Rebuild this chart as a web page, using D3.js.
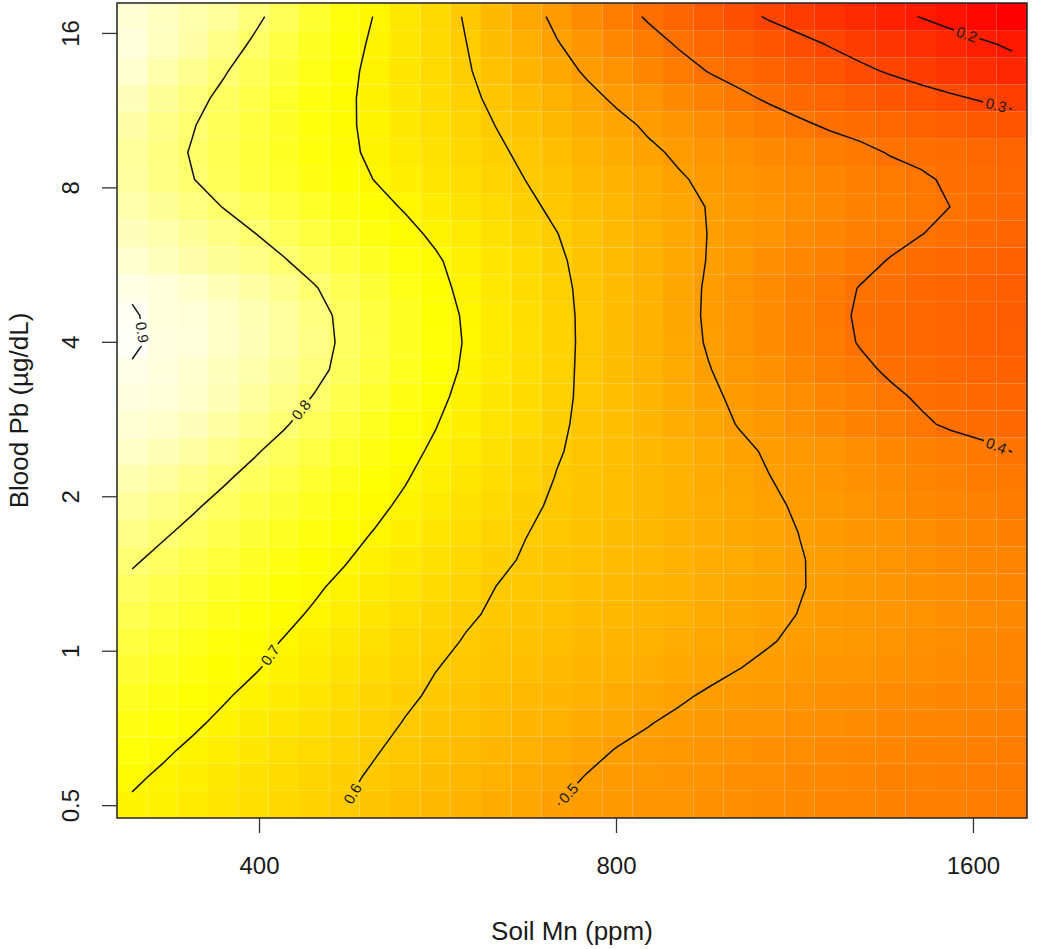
<!DOCTYPE html>
<html lang="en">
<head>
<meta charset="UTF-8">
<title>Soil Mn vs Blood Pb</title>
<script src="https://cdn.jsdelivr.net/npm/d3@7"></script>
<style>
  body { margin: 0; background: #fff; }
  text { font-family: "Liberation Sans", Arial, Helvetica, sans-serif; fill: #1a1a1a; }
</style>
</head>
<body>
<script>
// axis extents (data units) and tick labels
const mnRange = [303.6, 1777];
const pbRange = [0.472, 18.3];
const mnTicks = [400, 800, 1600];
const pbTicks = [0.5, 1, 2, 4, 8, 16];

// contour levels and where each label sits along its line (fraction of length, top end first)
const levels = [0.2, 0.3, 0.4, 0.5, 0.6, 0.7, 0.8, 0.9];
const labelAt = [0.52, 0.94, 0.977, 0.985, 0.986, 0.79, 0.676, 0.5];

// fitted surface, rows = Blood Pb from high (top) to low, columns = Soil Mn low -> high
const z = [
  [0.88,0.865,0.85,0.835,0.81,0.783,0.754,0.726,0.698,0.664,0.630,0.595,0.559,0.522,0.488,0.456,0.424,0.394,0.368,0.343,0.318,0.294,0.275,0.256,0.236,0.217,0.198,0.178,0.159,0.14],
  [0.885,0.865,0.845,0.82,0.795,0.770,0.744,0.719,0.692,0.662,0.631,0.601,0.568,0.535,0.503,0.476,0.448,0.421,0.395,0.375,0.355,0.335,0.315,0.296,0.278,0.261,0.243,0.226,0.208,0.191],
  [0.875,0.85,0.827,0.804,0.781,0.758,0.735,0.712,0.688,0.660,0.633,0.606,0.577,0.548,0.520,0.493,0.469,0.445,0.421,0.398,0.381,0.363,0.346,0.329,0.311,0.294,0.277,0.26,0.242,0.225],
  [0.86,0.832,0.812,0.791,0.771,0.750,0.730,0.709,0.686,0.662,0.637,0.613,0.588,0.564,0.539,0.514,0.491,0.471,0.451,0.431,0.411,0.393,0.379,0.365,0.351,0.336,0.322,0.308,0.294,0.280],
  [0.845,0.821,0.802,0.783,0.765,0.746,0.727,0.708,0.688,0.666,0.643,0.621,0.599,0.578,0.556,0.534,0.513,0.493,0.476,0.459,0.442,0.425,0.408,0.394,0.384,0.373,0.362,0.352,0.341,0.330],
  [0.835,0.815,0.797,0.780,0.762,0.745,0.727,0.710,0.691,0.670,0.650,0.629,0.609,0.589,0.569,0.549,0.529,0.509,0.493,0.479,0.465,0.452,0.438,0.424,0.411,0.397,0.39,0.383,0.375,0.365],
  [0.84,0.818,0.801,0.784,0.767,0.750,0.733,0.716,0.699,0.679,0.659,0.639,0.619,0.599,0.580,0.561,0.542,0.524,0.505,0.491,0.479,0.467,0.455,0.443,0.430,0.418,0.406,0.394,0.385,0.375],
  [0.85,0.834,0.816,0.799,0.782,0.765,0.748,0.731,0.714,0.696,0.674,0.653,0.632,0.610,0.590,0.571,0.553,0.534,0.515,0.498,0.485,0.473,0.461,0.449,0.436,0.424,0.412,0.3995,0.387,0.375],
  [0.86,0.848,0.834,0.819,0.8015,0.784,0.766,0.748,0.730,0.712,0.692,0.669,0.646,0.623,0.601,0.580,0.560,0.539,0.519,0.499,0.485,0.471,0.457,0.443,0.429,0.415,0.401,0.39,0.38,0.37],
  [0.875,0.862,0.847,0.834,0.82,0.803,0.784,0.764,0.745,0.725,0.706,0.682,0.657,0.632,0.608,0.585,0.563,0.541,0.519,0.498,0.481,0.464,0.448,0.431,0.414,0.397,0.386,0.377,0.368,0.36],
  [0.893,0.885,0.872,0.858,0.843,0.826,0.803,0.780,0.758,0.735,0.713,0.689,0.664,0.638,0.613,0.588,0.565,0.541,0.517,0.495,0.475,0.456,0.437,0.417,0.398,0.388,0.378,0.37,0.362,0.355],
  [0.905,0.885,0.882,0.869,0.855,0.839,0.815,0.790,0.766,0.743,0.719,0.695,0.668,0.642,0.615,0.590,0.565,0.541,0.517,0.494,0.474,0.454,0.434,0.414,0.394,0.384,0.374,0.365,0.357,0.35],
  [0.908,0.887,0.884,0.871,0.857,0.840,0.82,0.791,0.768,0.744,0.721,0.697,0.670,0.643,0.616,0.590,0.566,0.543,0.519,0.496,0.477,0.457,0.437,0.418,0.397,0.387,0.377,0.368,0.36,0.353],
  [0.895,0.886,0.875,0.862,0.848,0.832,0.813,0.787,0.764,0.741,0.718,0.694,0.668,0.641,0.614,0.590,0.568,0.546,0.524,0.502,0.483,0.465,0.447,0.428,0.410,0.393,0.384,0.375,0.367,0.36],
  [0.888,0.882,0.872,0.858,0.84,0.82,0.798,0.776,0.754,0.732,0.711,0.687,0.662,0.637,0.612,0.590,0.570,0.550,0.529,0.509,0.491,0.475,0.458,0.442,0.426,0.409,0.394,0.386,0.378,0.37],
  [0.88,0.872,0.86,0.843,0.824,0.804,0.783,0.763,0.742,0.722,0.702,0.679,0.655,0.632,0.609,0.588,0.570,0.552,0.534,0.515,0.498,0.483,0.467,0.452,0.437,0.422,0.407,0.393,0.385,0.377],
  [0.87,0.858,0.841,0.823,0.8045,0.786,0.768,0.749,0.731,0.712,0.693,0.671,0.649,0.626,0.604,0.587,0.572,0.556,0.540,0.524,0.509,0.495,0.483,0.471,0.459,0.447,0.435,0.423,0.411,0.3995],
  [0.852,0.839,0.822,0.805,0.788,0.771,0.754,0.737,0.720,0.703,0.682,0.661,0.640,0.619,0.598,0.584,0.570,0.556,0.543,0.529,0.515,0.501,0.489,0.478,0.467,0.455,0.444,0.433,0.421,0.41],
  [0.835,0.821,0.805,0.789,0.773,0.758,0.742,0.726,0.710,0.692,0.671,0.651,0.630,0.609,0.593,0.581,0.569,0.556,0.544,0.532,0.519,0.507,0.495,0.485,0.474,0.463,0.452,0.442,0.431,0.42],
  [0.82,0.805,0.790,0.774,0.759,0.744,0.729,0.714,0.698,0.679,0.659,0.640,0.620,0.601,0.589,0.578,0.567,0.556,0.544,0.533,0.522,0.511,0.4995,0.489,0.479,0.469,0.459,0.449,0.439,0.43],
  [0.805,0.790,0.776,0.761,0.746,0.732,0.717,0.703,0.685,0.666,0.648,0.629,0.610,0.595,0.585,0.575,0.564,0.554,0.544,0.533,0.523,0.513,0.502,0.492,0.483,0.474,0.465,0.456,0.447,0.438],
  [0.79,0.776,0.762,0.748,0.734,0.72,0.706,0.690,0.671,0.654,0.636,0.618,0.5996,0.590,0.580,0.570,0.560,0.551,0.541,0.531,0.521,0.512,0.502,0.4925,0.484,0.476,0.468,0.46,0.452,0.445],
  [0.778,0.764,0.751,0.737,0.724,0.71,0.695,0.677,0.659,0.641,0.624,0.606,0.594,0.584,0.575,0.565,0.556,0.546,0.537,0.528,0.518,0.509,0.499,0.491,0.484,0.477,0.47,0.463,0.456,0.45],
  [0.766,0.752,0.739,0.726,0.713,0.698,0.681,0.664,0.647,0.629,0.612,0.597,0.588,0.578,0.569,0.559,0.550,0.540,0.531,0.521,0.511,0.502,0.494,0.487,0.48,0.473,0.466,0.459,0.452,0.445],
  [0.755,0.742,0.729,0.716,0.704,0.687,0.670,0.653,0.636,0.618,0.601,0.591,0.581,0.571,0.561,0.551,0.541,0.531,0.521,0.511,0.5004,0.493,0.486,0.479,0.472,0.466,0.46,0.454,0.448,0.442],
  [0.744,0.731,0.718,0.705,0.6885,0.672,0.656,0.640,0.624,0.607,0.594,0.583,0.572,0.561,0.550,0.539,0.528,0.517,0.506,0.495,0.488,0.481,0.474,0.468,0.462,0.456,0.45,0.445,0.44,0.435],
  [0.733,0.72,0.707,0.691,0.675,0.660,0.644,0.628,0.613,0.598,0.586,0.574,0.562,0.550,0.538,0.526,0.514,0.502,0.492,0.485,0.478,0.472,0.466,0.46,0.454,0.448,0.443,0.438,0.433,0.428],
  [0.721,0.707,0.692,0.677,0.662,0.647,0.632,0.618,0.603,0.589,0.576,0.563,0.550,0.537,0.524,0.511,0.498,0.49,0.483,0.476,0.47,0.464,0.458,0.452,0.447,0.442,0.437,0.432,0.427,0.422],
  [0.707,0.693,0.679,0.664,0.650,0.636,0.622,0.608,0.594,0.580,0.566,0.553,0.539,0.525,0.512,0.498,0.49,0.483,0.476,0.47,0.464,0.458,0.452,0.447,0.442,0.437,0.432,0.427,0.422,0.418],
  [0.694,0.686,0.671,0.657,0.643,0.629,0.614,0.601,0.586,0.572,0.558,0.543,0.529,0.515,0.5005,0.492,0.485,0.478,0.472,0.466,0.46,0.455,0.45,0.445,0.44,0.435,0.43,0.426,0.422,0.418]
];

const W = 1050, H = 949;
const plot = { left: 117, right: 1027, top: 3, bottom: 818 };

const svg = d3.select("body").append("svg")
    .attr("width", W)
    .attr("height", H);

// log axes
const x = d3.scaleLog().domain(mnRange).range([plot.left, plot.right]);
const y = d3.scaleLog().domain(pbRange).range([plot.bottom, plot.top]);

// grid cells
const nx = z[0].length, ny = z.length;
const colBand = d3.scaleBand().domain(d3.range(nx)).range([plot.left, plot.right]);
const rowBand = d3.scaleBand().domain(d3.range(ny)).range([plot.top, plot.bottom]);
const gx = d3.scaleLinear().domain([0, nx]).range([plot.left, plot.right]);
const gy = d3.scaleLinear().domain([0, ny]).range([plot.top, plot.bottom]);

// heat colours: red -> yellow over 3/4 of the range, then towards white
const [zmin, zmax] = d3.extent(z.flat());
const color = d3.scaleLinear()
    .domain([zmin, zmin + 0.75 * (zmax - zmin), zmax])
    .range(["#ff0000", "#ffff00", "#fffffa"]);

svg.append("g").selectAll("g")
    .data(z)
    .join("g")
    .attr("transform", (d, j) => `translate(0,${rowBand(j)})`)
    .selectAll("rect")
    .data(d => d)
    .join("rect")
    .attr("x", (d, i) => colBand(i))
    .attr("width", colBand.bandwidth())
    .attr("height", rowBand.bandwidth())
    .attr("fill", d => color(d));

// contour lines, opened where the ring runs along the grid border
const contours = d3.contours().size([nx, ny]).thresholds(levels)(z.flat());
const onEdge = p => p[0] <= 0 || p[0] >= nx || p[1] <= 0 || p[1] >= ny;

function openLines(geom) {
    const lines = [];
    geom.coordinates.forEach(poly => poly.forEach(ring => {
        const pts = ring.slice(0, -1);
        const k = pts.findIndex(onEdge);
        if (k < 0) { lines.push(ring.slice()); return; }
        const rot = pts.slice(k).concat(pts.slice(0, k));
        let cur = [];
        rot.forEach(p => {
            if (onEdge(p)) { if (cur.length > 1) lines.push(cur); cur = []; }
            else cur.push(p);
        });
        if (cur.length > 1) lines.push(cur);
    }));
    return lines.map(l => {
        const px = l.map(p => [gx(p[0]), gy(p[1])]);
        const a = px[0], b = px[px.length - 1];
        return (a[1] > b[1] || (a[1] === b[1] && a[0] > b[0])) ? px.reverse() : px;
    });
}

function lengthOf(pts) {
    let s = 0;
    for (let k = 1; k < pts.length; k++) s += Math.hypot(pts[k][0] - pts[k - 1][0], pts[k][1] - pts[k - 1][1]);
    return s;
}

function pointAt(pts, s) {
    s = Math.max(0, s);
    for (let k = 1; k < pts.length; k++) {
        const seg = Math.hypot(pts[k][0] - pts[k - 1][0], pts[k][1] - pts[k - 1][1]);
        if (s <= seg) {
            const t = seg ? s / seg : 0;
            return [pts[k - 1][0] + t * (pts[k][0] - pts[k - 1][0]), pts[k - 1][1] + t * (pts[k][1] - pts[k - 1][1])];
        }
        s -= seg;
    }
    return pts[pts.length - 1];
}

const lineGen = d3.line();
const defs = svg.append("defs");
const mask = defs.append("mask").attr("id", "labelGap")
    .attr("maskUnits", "userSpaceOnUse")
    .attr("x", 0).attr("y", 0).attr("width", W).attr("height", H);
mask.append("rect").attr("width", W).attr("height", H).attr("fill", "#fff");

const lineLayer = svg.append("g").attr("mask", "url(#labelGap)");
const labelLayer = svg.append("g");

contours.forEach((c, li) => {
    const lines = openLines(c);
    lines.forEach(l => {
        lineLayer.append("path")
            .attr("d", lineGen(l))
            .attr("fill", "none")
            .attr("stroke", "#111")
            .attr("stroke-width", 1.5);
    });
    if (!lines.length) return;
    const main = lines.reduce((a, b) => lengthOf(b) > lengthOf(a) ? b : a);
    const L = lengthOf(main);
    const s = labelAt[li] * L;
    const p = pointAt(main, s);
    const p0 = pointAt(main, s - 9), p1 = pointAt(main, Math.min(L, s + 9));
    let ang = Math.atan2(p1[1] - p0[1], p1[0] - p0[0]) * 180 / Math.PI;
    if (ang >= 90) ang -= 180;
    if (ang < -90) ang += 180;
    const t = labelLayer.append("text")
        .attr("transform", `translate(${p[0]},${p[1]}) rotate(${ang})`)
        .attr("text-anchor", "middle")
        .attr("dy", "0.35em")
        .attr("font-size", 15)
        .text(d3.format(".1f")(c.value));
    const w = t.node().getComputedTextLength() + 6;
    mask.append("rect")
        .attr("x", -w / 2).attr("y", -8)
        .attr("width", w).attr("height", 16)
        .attr("transform", `translate(${p[0]},${p[1]}) rotate(${ang})`)
        .attr("fill", "#000");
});

// frame
svg.append("rect")
    .attr("x", plot.left).attr("y", plot.top)
    .attr("width", plot.right - plot.left).attr("height", plot.bottom - plot.top)
    .attr("fill", "none")
    .attr("stroke", "#222")
    .attr("stroke-width", 1.5);

// axes
const xAxis = d3.axisBottom(x)
    .tickValues(mnTicks)
    .tickFormat(d3.format("d"))
    .tickSizeInner(15).tickSizeOuter(0)
    .tickPadding(24);
svg.append("g")
    .attr("transform", `translate(0,${plot.bottom})`)
    .call(xAxis)
    .attr("font-size", null).attr("font-family", null)
    .call(g => g.select(".domain").remove())
    .call(g => g.selectAll(".tick line").attr("stroke", "#333").attr("stroke-width", 1.3))
    .call(g => g.selectAll(".tick text").attr("font-size", 24).attr("fill", "#1a1a1a"));

const yAxis = d3.axisLeft(y)
    .tickValues(pbTicks)
    .tickFormat(d => d)
    .tickSizeInner(15).tickSizeOuter(0);
svg.append("g")
    .attr("transform", `translate(${plot.left},0)`)
    .call(yAxis)
    .attr("font-size", null).attr("font-family", null)
    .call(g => g.select(".domain").remove())
    .call(g => g.selectAll(".tick line").attr("stroke", "#333").attr("stroke-width", 1.3))
    .call(g => g.selectAll(".tick text")
        .attr("x", null).attr("dy", null)
        .attr("text-anchor", "middle")
        .attr("transform", "translate(-38,0) rotate(-90)")
        .attr("font-size", 24).attr("fill", "#1a1a1a"));

// axis titles
svg.append("text")
    .attr("x", (plot.left + plot.right) / 2)
    .attr("y", 940)
    .attr("text-anchor", "middle")
    .attr("font-size", 26)
    .text("Soil Mn (ppm)");

svg.append("text")
    .attr("transform", `translate(28,${(plot.top + plot.bottom) / 2}) rotate(-90)`)
    .attr("text-anchor", "middle")
    .attr("font-size", 26)
    .text("Blood Pb (µg/dL)");
</script>
</body>
</html>
